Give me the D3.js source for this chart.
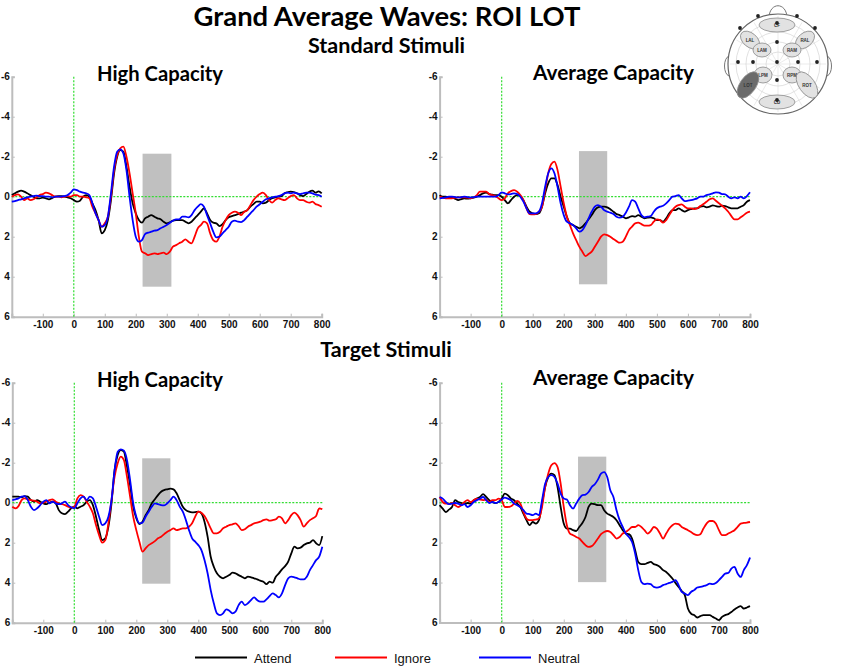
<!DOCTYPE html>
<html>
<head>
<meta charset="utf-8">
<script src="https://cdn.jsdelivr.net/npm/d3@7/dist/d3.min.js"></script>
<style>
  html, body { margin: 0; padding: 0; background: #fff; }
  svg { display: block; }
</style>
</head>
<body>
<svg id="chart" width="843" height="668"></svg>
<script>
// ---------- DATA ----------
const times = d3.range(-200, 801, 10); // ms, 101 samples
const xTicks = [-100, 0, 100, 200, 300, 400, 500, 600, 700, 800];
const yTicks = [-6, -4, -2, 0, 2, 4, 6];
const seriesNames = ["Attend", "Ignore", "Neutral"];
const seriesColors = ["#000000", "#ff0000", "#0000ff"];

// Standard stimuli, High capacity
const stdHighAttend = [-0.08,-0.17,-0.25,-0.3,-0.25,-0.17,-0.08,0,0.08,0.08,0.05,0.08,0.13,0.07,0,-0.03,-0.03,0,0.03,0.08,
0.17,0.25,0.2,0,-0.08,0,0.33,0.67,1.17,1.83,1.67,1.17,0.17,-1.17,-2.0,-2.33,-2.25,-1.5,-0.5,0.33,
0.83,1.17,1.3,1.08,1.0,0.92,1.0,1.08,1.13,1.25,1.33,1.28,1.2,1.17,1.17,1.17,1.25,1.33,1.25,1.08,
0.92,0.75,0.58,0.83,1.17,1.3,1.33,1.47,1.37,1.17,1.03,0.97,0.92,0.87,0.8,0.75,0.67,0.5,0.37,0.25,
0.25,0.33,0.3,0.17,0.08,0.03,0,-0.03,-0.17,-0.22,-0.25,-0.23,-0.17,-0.08,-0.03,-0.13,-0.25,-0.3,-0.2,-0.27,-0.17];
const stdHighIgnore = [0,-0.08,-0.12,0,0.17,0.08,0.17,0.13,0.03,-0.08,-0.13,-0.2,-0.17,-0.08,0,0,0.03,0,-0.03,0,
-0.08,-0.08,0,0,0.03,0.08,0.5,0.83,1.17,1.5,1.33,1.0,0,-1.33,-2.08,-2.42,-2.5,-2.0,-1.17,-0.17,
0.83,2.0,2.75,2.83,2.92,2.87,2.83,2.87,2.83,2.8,2.87,2.75,2.5,2.42,2.33,2.25,2.13,2.25,2.33,2.0,
1.58,1.42,1.25,1.33,1.83,2.17,2.25,2.0,1.5,1.17,0.92,0.8,0.75,0.8,0.92,0.75,0.67,0.42,0.17,0,
-0.13,-0.2,-0.08,0.17,0.3,0.17,0.08,0.13,0.17,0.08,-0.03,-0.08,0.08,0.17,0.17,0.25,0.3,0.25,0.37,0.42,0.5];
const stdHighNeutral = [0.25,0.22,0.17,0.13,0.08,0.03,0,-0.03,-0.05,-0.03,-0.03,0,0,0.03,0,0,0,-0.03,-0.08,-0.2,
-0.37,-0.33,-0.25,-0.2,-0.17,-0.08,0.33,0.83,1.17,1.5,1.42,1.0,-0.17,-1.5,-2.25,-2.37,-2.17,-1.33,0,1.17,
2.0,2.25,2.17,1.87,1.8,1.75,1.7,1.67,1.58,1.5,1.42,1.3,1.2,1.13,1.13,1.0,1.0,1.03,0.92,0.67,
0.5,0.37,0.5,0.92,1.33,1.75,2.03,2.0,1.83,1.67,1.5,1.25,1.2,1.25,1.27,1.17,1.0,0.83,0.67,0.5,
0.38,0.25,0.13,0.08,0.03,0,-0.03,-0.08,-0.17,-0.2,-0.17,-0.2,-0.17,-0.13,-0.17,-0.2,-0.2,-0.17,-0.1,-0.08,0];

// Standard stimuli, Average capacity
const stdAvgAttend = [-0.08,0,0,0.03,0.03,0.1,0.17,0.12,0.08,0.1,0.08,0.05,0,-0.08,-0.17,-0.2,-0.13,-0.1,-0.08,-0.08,
0,0.17,0.33,0.17,0,-0.08,-0.03,0.17,0.5,0.75,0.83,0.87,0.83,0.5,-0.17,-0.67,-0.92,-0.92,-0.58,0,
0.5,1.0,1.33,1.42,1.5,1.58,1.5,1.33,1.13,0.92,0.67,0.53,0.5,0.5,0.53,0.63,0.75,0.87,0.92,1.0,
1.08,1.03,0.97,1.0,0.92,1.0,1.08,1.05,1.03,1.08,1.17,1.17,1.25,1.08,0.83,0.67,0.67,0.58,0.67,0.75,
0.67,0.62,0.58,0.58,0.5,0.47,0.53,0.5,0.43,0.47,0.5,0.45,0.47,0.53,0.58,0.58,0.58,0.5,0.42,0.25,0.17];
const stdAvgIgnore = [0,0.05,0.08,0.08,0.08,0.05,0.03,0.03,0.03,0.05,0.08,0.03,-0.08,-0.25,-0.25,-0.25,-0.13,-0.08,-0.03,0.08,
0.17,0.08,-0.17,-0.28,-0.33,-0.25,-0.08,0.17,0.58,0.87,0.88,0.87,0.75,0.5,-0.33,-1.17,-1.63,-1.75,-1.33,-0.5,
0.33,1.0,1.42,1.83,2.17,2.5,2.75,2.97,2.87,2.75,2.5,2.25,2.0,1.88,1.92,2.0,2.12,2.22,2.3,2.25,
2.0,1.67,1.5,1.33,1.3,1.37,1.45,1.45,1.42,1.25,1.13,1.17,1.3,1.17,0.92,0.67,0.5,0.42,0.38,0.5,
0.58,0.58,0.62,0.58,0.47,0.37,0.25,0.13,0.08,0.2,0.33,0.45,0.58,0.75,0.97,1.13,1.13,1.03,0.92,0.8,0.75];
const stdAvgNeutral = [0.08,0.06,0.03,0,0,0.02,0.03,0.02,0,0.02,0.03,0.02,0,0,0,0,0,0,0,-0.08,
-0.22,-0.17,-0.12,-0.13,-0.17,-0.13,0,0.25,0.58,0.83,0.83,0.83,0.75,0.33,-0.5,-1.17,-1.42,-1.17,-0.5,0.33,
0.92,1.25,1.33,1.42,1.58,1.75,1.67,1.42,1.08,0.75,0.5,0.42,0.5,0.67,0.75,0.8,0.87,1.0,1.05,1.0,
0.8,0.5,0.17,0.25,0.58,0.92,1.03,1.0,0.97,0.75,0.58,0.5,0.45,0.33,0.17,0,-0.03,-0.08,0.08,0.22,
0.2,0.17,0.13,0.08,0,0,-0.08,-0.12,-0.17,-0.22,-0.2,-0.13,-0.12,0,0.08,0.03,0.08,0,0.08,-0.03,-0.22];

// Target stimuli, High capacity
const tgtHighAttend = [-0.3,-0.3,-0.3,-0.27,-0.33,-0.3,-0.13,-0.05,-0.13,-0.05,0.03,0.07,0,-0.05,0.03,0.37,0.53,0.57,0.45,0.28,
0.2,0.28,0.2,0.12,-0.05,-0.13,0.12,0.7,1.37,1.87,1.78,1.2,0.03,-1.63,-2.38,-2.63,-2.55,-1.8,-0.88,0.2,
0.78,1.07,0.95,0.62,0.37,0.03,-0.17,-0.38,-0.55,-0.63,-0.67,-0.7,-0.67,-0.47,-0.13,0.2,0.37,0.45,0.48,0.47,
0.45,0.53,0.95,1.7,2.7,3.2,3.53,3.7,3.78,3.7,3.62,3.5,3.53,3.62,3.7,3.78,3.7,3.73,3.78,3.83,
3.9,3.95,4.07,3.95,4.0,3.7,3.53,3.33,3.17,2.95,2.53,2.2,2.28,2.25,2.12,2.03,2.0,1.87,2.03,2.12,1.67];
const tgtHighIgnore = [0.2,0.28,0.17,-0.13,-0.22,-0.17,-0.13,-0.1,-0.05,0.03,0,-0.05,-0.13,-0.17,-0.05,0.03,0.07,0.12,0.2,0.25,
0.2,-0.22,-0.38,-0.3,-0.05,0.2,0.53,1.12,1.62,2.0,1.87,1.03,-0.13,-1.3,-1.97,-2.3,-2.13,-1.3,-0.3,0.7,
1.37,1.95,2.45,2.28,2.12,2.03,1.92,1.78,1.7,1.57,1.45,1.37,1.28,1.37,1.33,1.28,1.28,1.2,1.03,0.7,
0.45,0.5,0.67,0.95,1.28,1.53,1.53,1.45,1.28,1.2,1.12,1.08,1.03,1.17,1.37,1.33,1.2,1.12,1.03,1.0,
0.95,0.87,0.83,0.9,0.87,0.83,0.7,0.78,1.03,0.87,0.62,0.5,0.62,0.87,1.2,1.03,0.87,0.78,0.67,0.28,0.33];
const tgtHighNeutral = [-0.13,-0.17,-0.22,-0.3,-0.33,-0.13,0.2,0.37,0.28,0.12,-0.05,-0.13,0.03,-0.05,0.03,0.07,0.03,-0.05,0.12,0.23,
0.28,0.03,-0.22,-0.3,-0.13,-0.3,-0.22,0.2,0.7,1.12,1.03,0.7,-0.13,-1.63,-2.55,-2.67,-2.6,-2.13,-1.13,0.03,
0.7,1.03,1.0,0.7,0.45,0.2,0.03,0.07,0.12,0.13,0.03,-0.13,-0.3,-0.13,0.2,0.45,0.87,1.37,1.78,1.95,
2.12,2.37,2.87,3.53,4.37,5.03,5.53,5.62,5.53,5.33,5.4,5.53,5.45,5.12,4.95,5.12,5.03,4.87,4.73,4.87,
4.95,4.95,4.83,4.67,4.53,4.62,4.73,4.53,4.12,3.78,3.7,3.73,3.78,3.83,3.83,3.7,3.37,3.12,2.87,2.7,2.2];

// Target stimuli, Average capacity
const tgtAvgAttend = [0.13,0.3,0.47,0.35,0.22,-0.12,-0.03,0.02,0.08,0.02,0.05,-0.12,-0.2,-0.28,-0.42,-0.28,-0.12,-0.03,0.02,-0.03,
-0.2,-0.45,-0.37,-0.2,-0.12,0.05,0.22,0.55,0.88,1.13,0.97,1.05,0.88,0.05,-0.78,-1.28,-1.45,-1.37,-0.78,0.22,
1.05,1.3,1.3,1.38,1.42,1.22,1.02,0.72,0.22,0.05,0.08,0.13,0.13,0.38,0.55,0.63,0.72,0.88,1.13,1.38,
1.55,1.58,1.8,2.38,2.97,3.08,3.08,3.02,2.97,3.08,3.13,3.22,3.38,3.47,3.63,3.8,4.02,4.22,4.42,4.63,
5.3,5.55,5.63,5.75,5.68,5.63,5.63,5.63,5.72,5.8,5.88,5.72,5.63,5.58,5.47,5.35,5.25,5.18,5.3,5.25,5.18];
const tgtAvgIgnore = [-0.28,-0.03,0.05,0.05,0.02,0.13,0.22,0.13,-0.03,-0.12,-0.03,-0.12,-0.2,-0.15,-0.12,-0.15,-0.03,-0.12,-0.12,-0.2,
-0.12,0.22,0.22,0.18,0.05,-0.08,0.05,0.47,0.8,0.88,0.88,0.85,0.8,0.22,-0.78,-1.45,-1.87,-1.98,-1.78,-0.95,
0.22,1.13,1.55,1.63,1.72,1.8,1.97,2.13,2.22,2.18,2.02,1.8,1.58,1.47,1.42,1.47,1.63,1.8,1.72,1.55,
1.47,1.35,1.22,1.22,1.13,1.22,1.38,1.55,1.43,1.22,1.3,1.55,1.8,1.55,1.3,1.13,1.05,1.08,1.22,1.3,
1.38,1.47,1.58,1.63,1.58,1.3,1.05,0.92,0.92,1.05,1.38,1.63,1.63,1.55,1.47,1.38,1.22,1.05,1.02,1.0,0.97];
const tgtAvgNeutral = [-0.28,-0.2,-0.03,0.08,0.05,0.02,0.05,0.13,0.08,0.22,0.13,-0.03,-0.12,-0.2,-0.28,-0.12,0.02,-0.03,0.02,-0.03,
-0.15,-0.25,-0.2,-0.12,0.05,0.13,0.22,0.38,0.55,0.58,0.63,0.55,0.63,-0.12,-0.95,-1.28,-1.37,-1.28,-0.95,-0.45,
-0.2,-0.15,0.13,0.3,0.05,-0.2,-0.37,-0.4,-0.53,-0.78,-0.92,-1.15,-1.45,-1.53,-1.28,-0.62,-0.28,0.38,0.88,1.22,
1.55,1.72,1.97,2.55,3.38,3.97,4.08,4.05,4.08,4.22,4.25,4.22,4.13,4.08,4.02,3.97,3.88,4.13,4.47,4.55,
4.63,4.47,4.38,4.25,4.22,4.18,4.13,4.05,4.08,4.02,3.88,3.72,3.55,3.52,3.3,3.22,3.55,3.72,3.38,3.13,2.75];

// analysis windows (ms start, ms end, top µV, bottom µV)
const windowStdHigh = [222, 315, -2.15, 4.5];
const windowStdAvg  = [249, 340, -2.28, 4.38];
const windowTgtHigh = [219, 310, -2.22, 4.05];
const windowTgtAvg  = [246, 337, -2.3, 3.98];

// ---------- LAYOUT ----------
const svg = d3.select("#chart");
const panels = [
  { title: "High Capacity",    xr: [11.8, 321.7], yr: [76.7, 316.7], tx: 160, ty: 80.7, tw: 126, win: windowStdHigh, data: [stdHighAttend, stdHighIgnore, stdHighNeutral] },
  { title: "Average Capacity", xr: [439.6, 750],  yr: [76.7, 316.7], tx: 613.5, ty: 80, tw: 161, win: windowStdAvg, data: [stdAvgAttend, stdAvgIgnore, stdAvgNeutral] },
  { title: "High Capacity",    xr: [12.3, 322.3], yr: [382.7, 622.7], tx: 160, ty: 387, tw: 126, win: windowTgtHigh, data: [tgtHighAttend, tgtHighIgnore, tgtHighNeutral] },
  { title: "Average Capacity", xr: [439.6, 750],  yr: [382.7, 622.5], tx: 613.5, ty: 385, tw: 161, win: windowTgtAvg, data: [tgtAvgAttend, tgtAvgIgnore, tgtAvgNeutral] }
];

const titleFont = "Lato, 'Open Sans', sans-serif";
const axisFont = "Arial, 'Liberation Sans', sans-serif";

panels.forEach(p => {
  const x = d3.scaleLinear().domain([-200, 800]).range(p.xr);
  const y = d3.scaleLinear().domain([-6, 6]).range(p.yr);
  const g = svg.append("g");

  // shaded window
  g.append("rect")
    .attr("x", x(p.win[0])).attr("width", x(p.win[1]) - x(p.win[0]))
    .attr("y", y(p.win[2])).attr("height", y(p.win[3]) - y(p.win[2]))
    .attr("fill", "#c0c0c0");

  // axes
  const yAxis = d3.axisLeft(y).tickValues(yTicks).tickSize(-3).tickPadding(2).tickFormat(d => String(d));
  const xAxis = d3.axisBottom(x).tickValues(xTicks).tickSize(-3).tickPadding(4).tickFormat(d => String(d));
  const ya = g.append("g").attr("transform", `translate(${p.xr[0]},0)`).call(yAxis);
  const xa = g.append("g").attr("transform", `translate(0,${p.yr[1]})`).call(xAxis);
  [ya, xa].forEach(a => {
    a.select(".domain").attr("stroke", "#bdbdbd").attr("stroke-width", 2);
    a.selectAll(".tick line").attr("stroke", "#bdbdbd").attr("stroke-width", 1);
    a.selectAll(".tick text").attr("fill", "#111").attr("font-family", axisFont)
      .attr("font-weight", "bold").attr("font-size", 10);
  });

  // zero reference lines
  g.append("line").attr("x1", x(-200)).attr("x2", x(800)).attr("y1", y(0)).attr("y2", y(0))
    .attr("stroke", "#33dd33").attr("stroke-width", 1.2).attr("stroke-dasharray", "2,1.5");
  g.append("line").attr("x1", x(0)).attr("x2", x(0)).attr("y1", y(-6)).attr("y2", y(6))
    .attr("stroke", "#33dd33").attr("stroke-width", 1.2).attr("stroke-dasharray", "2,1.5");

  // waves
  const line = d3.line().x((d, i) => x(times[i])).y(d => y(d)).curve(d3.curveMonotoneX);
  p.data.forEach((s, k) => {
    g.append("path").datum(s).attr("d", line).attr("fill", "none")
      .attr("stroke", seriesColors[k]).attr("stroke-width", 1.8).attr("stroke-linejoin", "round");
  });

  // panel title
  g.append("text").attr("x", p.tx).attr("y", p.ty).attr("text-anchor", "middle")
    .attr("font-family", titleFont).attr("font-weight", "bold").attr("font-size", 20)
    .attr("textLength", p.tw).attr("lengthAdjust", "spacingAndGlyphs")
    .attr("fill", "#000").text(p.title);
});

// main titles
svg.append("text").attr("x", 387).attr("y", 26).attr("text-anchor", "middle")
  .attr("font-family", titleFont).attr("font-weight", "bold").attr("font-size", 26)
  .attr("textLength", 387).attr("lengthAdjust", "spacingAndGlyphs").text("Grand Average Waves: ROI LOT");
const stdT = svg.append("text").attr("x", 386.5).attr("y", 53).attr("text-anchor", "middle")
  .attr("font-family", titleFont).attr("font-weight", "bold").attr("font-size", 20)
  .text("Standard Stimuli");
const tgtT = svg.append("text").attr("x", 386).attr("y", 357).attr("text-anchor", "middle")
  .attr("font-family", titleFont).attr("font-weight", "bold").attr("font-size", 20)
  .text("Target Stimuli");
const ratio = 157 / stdT.node().getComputedTextLength();
stdT.attr("textLength", 157).attr("lengthAdjust", "spacingAndGlyphs");
tgtT.attr("textLength", tgtT.node().getComputedTextLength() * ratio).attr("lengthAdjust", "spacingAndGlyphs");

// legend
const legendX = [195, 335, 479];
const lg = svg.append("g");
seriesNames.forEach((n, i) => {
  lg.append("line").attr("x1", legendX[i]).attr("x2", legendX[i] + 52).attr("y1", 657.5).attr("y2", 657.5)
    .attr("stroke", seriesColors[i]).attr("stroke-width", 2.2);
  lg.append("text").attr("x", legendX[i] + 59).attr("y", 662.5)
    .attr("font-family", axisFont).attr("font-size", 13).attr("fill", "#111").text(n);
});

// head diagram (ROI map)
const head = svg.append("g").attr("transform", "translate(778,64)");
head.append("path").attr("d", "M-9,-47 C-8,-62 8,-62 9,-47").attr("fill", "#fff").attr("stroke", "#777").attr("stroke-width", 1);
head.append("path").attr("d", "M-49,-8 C-55,-6 -55,10 -49,12").attr("fill", "#fff").attr("stroke", "#777").attr("stroke-width", 1);
head.append("path").attr("d", "M49,-8 C55,-6 55,10 49,12").attr("fill", "#fff").attr("stroke", "#777").attr("stroke-width", 1);
head.append("circle").attr("r", 50).attr("fill", "#fff").attr("stroke", "#666").attr("stroke-width", 1.2);
[12, 22, 32, 42].forEach(r => head.append("circle").attr("r", r).attr("fill", "none").attr("stroke", "#ccc").attr("stroke-width", 0.6));
d3.range(0, 360, 30).forEach(a => {
  const r = a * Math.PI / 180;
  head.append("line").attr("x1", 0).attr("y1", 0).attr("x2", 48 * Math.cos(r)).attr("y2", 48 * Math.sin(r))
    .attr("stroke", "#d5d5d5").attr("stroke-width", 0.5);
});
const rois = [
  { n: "CF",  cx: -1,  cy: -39, rx: 18, ry: 7,  rot: 0 },
  { n: "LAL", cx: -28, cy: -24, rx: 11, ry: 7,  rot: 40 },
  { n: "RAL", cx: 27,  cy: -24, rx: 11, ry: 7,  rot: -40 },
  { n: "LAM", cx: -16, cy: -14, rx: 9,  ry: 7,  rot: 0 },
  { n: "RAM", cx: 14,  cy: -14, rx: 9,  ry: 7,  rot: 0 },
  { n: "LPM", cx: -15, cy: 11,  rx: 9,  ry: 8,  rot: 0 },
  { n: "RPM", cx: 14,  cy: 11,  rx: 9,  ry: 8,  rot: 0 },
  { n: "LOT", cx: -30, cy: 21,  rx: 8,  ry: 15, rot: 35, dark: true },
  { n: "ROT", cx: 29,  cy: 21,  rx: 8,  ry: 15, rot: -35 },
  { n: "CD",  cx: -1,  cy: 38,  rx: 18, ry: 7,  rot: 0 }
];
rois.forEach(r => {
  const rg = head.append("g").attr("transform", `translate(${r.cx},${r.cy})`);
  rg.append("ellipse").attr("rx", r.rx).attr("ry", r.ry).attr("transform", `rotate(${r.rot})`)
    .attr("fill", r.dark ? "#6b6b6b" : "#e2e2e2").attr("stroke", "#8a8a8a").attr("stroke-width", 0.8);
  rg.append("text").attr("y", 2).attr("text-anchor", "middle").attr("font-family", axisFont)
    .attr("font-size", 4.5).attr("font-weight", "bold").attr("fill", "#333").text(r.n);
});
const dots = [[-40, -2], [-25, -2], [-1, -2], [20, -2], [39, -2], [-1, -41], [-1, -22], [-1, 16], [-1, 36],
  [-38, -36], [-20, -48], [19, -48], [37, -36]];
dots.forEach(d => head.append("circle").attr("cx", d[0]).attr("cy", d[1]).attr("r", 1.9).attr("fill", "#222"));
</script>
</body>
</html>
